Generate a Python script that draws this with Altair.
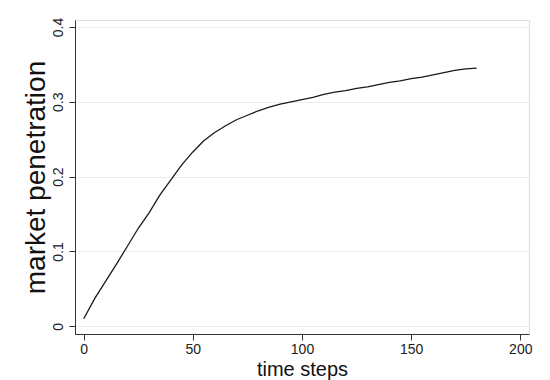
import altair as alt
import pandas as pd

time_steps = [0, 5, 10, 15, 20, 25, 30, 35, 40, 45, 50, 55, 60, 65, 70, 75, 80, 85, 90,
              95, 100, 105, 110, 115, 120, 125, 130, 135, 140, 145, 150, 155, 160, 165,
              170, 175, 180]
penetration = [0.010, 0.037, 0.060, 0.083, 0.107, 0.131, 0.152, 0.176, 0.196, 0.216,
               0.233, 0.248, 0.259, 0.268, 0.276, 0.282, 0.288, 0.293, 0.297, 0.300,
               0.303, 0.306, 0.310, 0.313, 0.315, 0.318, 0.320, 0.323, 0.326, 0.328,
               0.331, 0.333, 0.336, 0.339, 0.342, 0.344, 0.345]
x_ticks = [0, 50, 100, 150, 200]
y_ticks = [0, 0.1, 0.2, 0.3, 0.4]

df = pd.DataFrame({"t": time_steps, "p": penetration})

FONT = "Liberation Sans"

chart = alt.Chart(df).mark_line(color="#1a1a1a", strokeWidth=1.3).encode(
    x=alt.X("t:Q", scale=alt.Scale(domain=[-4, 204], nice=False, zero=False),
            axis=alt.Axis(values=x_ticks, title="time steps", grid=False,
                          titleFontSize=20, titleFontWeight="normal", titleFont=FONT,
                          titlePadding=3, labelFont=FONT, labelFontSize=14,
                          labelColor="#222", titleColor="#111",
                          domainColor="#333", tickColor="#333", tickSize=6,
                          labelPadding=2, labelFlush=False)),
    y=alt.Y("p:Q", scale=alt.Scale(domain=[-0.0103, 0.4093], nice=False, zero=False),
            axis=alt.Axis(values=y_ticks, title="market penetration",
                          labelExpr="datum.value == 0 ? '0' : format(datum.value, '.1f')",
                          labelAngle=-90, labelAlign="center", labelBaseline="bottom",
                          labelFont=FONT, labelFontSize=14, labelColor="#222",
                          titleFont=FONT, titleFontSize=28, titleFontWeight="normal",
                          titleColor="#111", titlePadding=1,
                          grid=True, gridColor="#e6eff1", gridWidth=1.2,
                          domainColor="#333", tickColor="#333", tickSize=6,
                          labelPadding=4, labelFlush=False)),
).properties(
    width=454, height=314,
    autosize=alt.AutoSizeParams(type="none"),
    padding={"left": 67, "top": 12, "right": 8, "bottom": 48},
).configure_view(stroke=None).configure(background="white")

chart.save("out.html", embed_options={"renderer": "svg", "actions": False})
